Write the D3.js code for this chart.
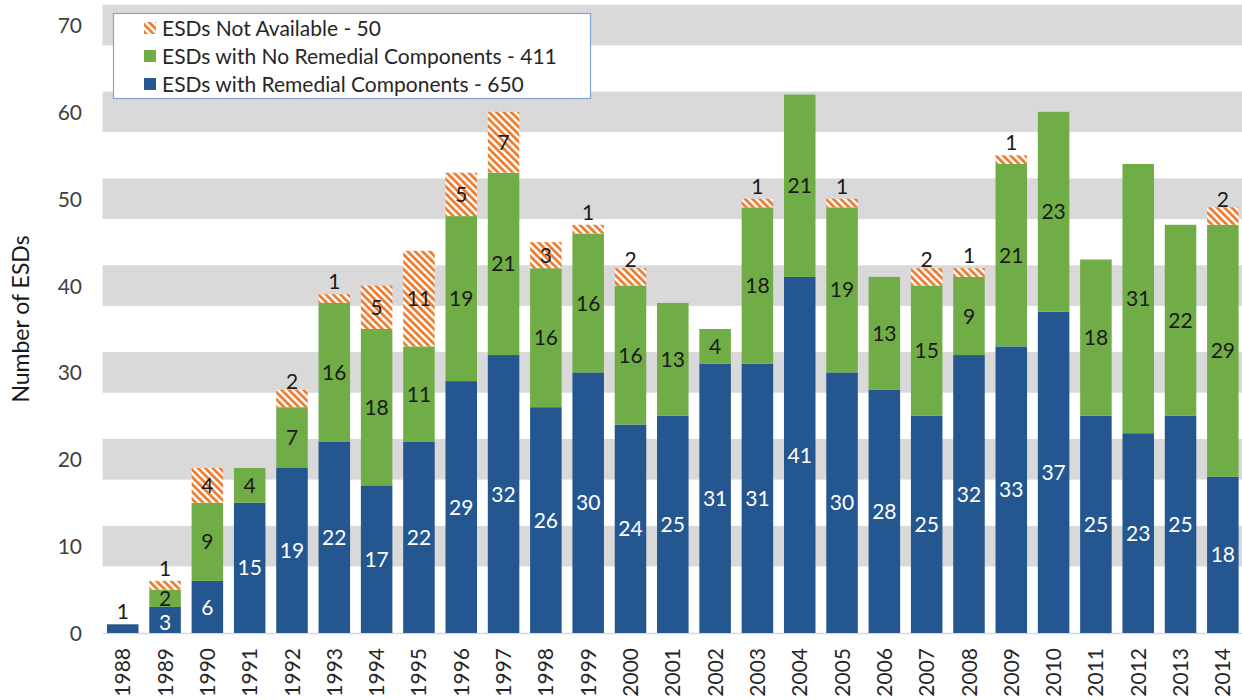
<!DOCTYPE html>
<html>
<head>
<meta charset="utf-8">
<script src="https://cdn.jsdelivr.net/npm/d3@7/dist/d3.min.js"></script>
<style>
  html, body { margin: 0; padding: 0; background: #ffffff; }
  svg { display: block; }
  text { font-family: Lato, "Open Sans", sans-serif; }
</style>
</head>
<body>
<svg id="chart" width="1242" height="700"></svg>
<script>
const years = ["1988","1989","1990","1991","1992","1993","1994","1995","1996","1997","1998","1999","2000","2001","2002","2003","2004","2005","2006","2007","2008","2009","2010","2011","2012","2013","2014"];
const remedial =     [1, 3, 6, 15, 19, 22, 17, 22, 29, 32, 26, 30, 24, 25, 31, 31, 41, 30, 28, 25, 32, 33, 37, 25, 23, 25, 18];
const noRemedial =   [0, 2, 9, 4, 7, 16, 18, 11, 19, 21, 16, 16, 16, 13, 4, 18, 21, 19, 13, 15, 9, 21, 23, 18, 31, 22, 29];
const notAvailable = [0, 1, 4, 0, 2, 1, 5, 11, 5, 7, 3, 1, 2, 0, 0, 1, 0, 1, 0, 2, 1, 1, 0, 0, 0, 0, 2];
const yTicks = [0, 10, 20, 30, 40, 50, 60, 70];
const seriesKeys = ["remedial", "noRemedial", "notAvailable"];
const legendLabels = ["ESDs Not Available - 50", "ESDs with No Remedial Components - 411", "ESDs with Remedial Components - 650"];
const legendKeys = ["notAvailable", "noRemedial", "remedial"];
const yTitle = "Number of ESDs";

const colors = { remedial: "#245690", noRemedial: "#70AD47", notAvailable: "url(#hatch)" };

const svg = d3.select("#chart");
const defs = svg.append("defs");
const pat = defs.append("pattern")
  .attr("id", "hatch").attr("patternUnits", "userSpaceOnUse")
  .attr("width", 5.2).attr("height", 5.2)
  .attr("patternTransform", "rotate(-45)");
pat.append("rect").attr("width", 5.2).attr("height", 5.2).attr("fill", "#ffffff");
pat.append("rect").attr("width", 2.8).attr("height", 5.2).attr("fill", "#ED7D31");

const table = years.map((y, i) => ({ year: y, remedial: remedial[i], noRemedial: noRemedial[i], notAvailable: notAvailable[i] }));

const x = d3.scaleBand().domain(years).range([101.6, 1244]).paddingInner(0.255).paddingOuter(0.1275);
const y = d3.scaleLinear().domain([0, 70]).range([633, 25]);

// gray bands centered on ticks
svg.append("g").selectAll("rect").data(yTicks.filter(t => t > 0)).join("rect")
  .attr("x", 102.5).attr("width", 1242 - 102.5)
  .attr("y", d => y(d) - 20.3).attr("height", 40.6)
  .attr("fill", "#D9D9D9");

// baseline
svg.append("line").attr("x1", 102.5).attr("x2", 1242).attr("y1", y(0) + 0.5).attr("y2", y(0) + 0.5)
  .attr("stroke", "#D9D9D9").attr("stroke-width", 1.5);

// y tick labels
const yAxis = d3.axisLeft(y).tickValues(yTicks).tickSize(0).tickPadding(0);
const gy = svg.append("g").attr("transform", "translate(82,0)").call(yAxis);
gy.select(".domain").remove();
gy.selectAll("text").attr("font-size", 21).attr("fill", "#404040").attr("font-family", "Lato").attr("dy", "0.36em");

// x labels
const xAxis = d3.axisBottom(x).tickSize(0).tickPadding(0);
const gx = svg.append("g").attr("transform", "translate(0,648)").call(xAxis);
gx.select(".domain").remove();
gx.selectAll("text")
  .attr("transform", "rotate(-90)")
  .attr("text-anchor", "end")
  .attr("x", 0).attr("y", 0).attr("dy", "0.36em")
  .attr("font-size", 21).attr("fill", "#262626").attr("font-family", "Lato");

// stacks
const stack = d3.stack().keys(seriesKeys);
const stacked = stack(table);

svg.append("g").selectAll("g").data(stacked).join("g")
  .attr("fill", d => colors[d.key])
  .selectAll("rect").data(d => d.filter(s => s[1] > s[0])).join("rect")
  .attr("x", d => x(d.data.year))
  .attr("width", x.bandwidth())
  .attr("y", d => y(d[1]))
  .attr("height", d => y(d[0]) - y(d[1]));

// data labels
const labels = [];
stacked.forEach((layer, li) => {
  layer.forEach((s, i) => {
    const v = s[1] - s[0];
    if (v <= 0) return;
    const total = s.data.remedial + s.data.noRemedial + s.data.notAvailable;
    const isTop = s[1] === total;
    const mid = (y(s[0]) + y(s[1])) / 2;
    const above = isTop && v <= 2;
    labels.push({
      year: s.data.year, v,
      cy: above ? mid - 17 : (li === 0 && v <= 3 ? mid + 2 : mid),
      fill: (layer.key === "remedial" && !above) ? "#ffffff" : "#1a1a1a"
    });
  });
});
svg.append("g").selectAll("text").data(labels).join("text")
  .attr("x", d => x(d.year) + x.bandwidth() / 2)
  .attr("y", d => d.cy)
  .attr("dy", "0.36em")
  .attr("text-anchor", "middle")
  .attr("font-size", 21)
  .attr("fill", d => d.fill)
  .text(d => d.v);

// y title
svg.append("text")
  .attr("transform", "translate(21,319) rotate(-90)")
  .attr("text-anchor", "middle").attr("dy", "0.36em")
  .attr("font-size", 23).attr("fill", "#1a1a1a")
  .text(yTitle);

// legend
const lg = svg.append("g");
lg.append("rect").attr("x", 113.5).attr("y", 13.5).attr("width", 477).attr("height", 85)
  .attr("fill", "#ffffff").attr("stroke", "#7FA7D9").attr("stroke-width", 1.2);
const rowY = [28, 56, 84];
legendKeys.forEach((k, i) => {
  lg.append("rect").attr("x", 144).attr("y", rowY[i] - 6).attr("width", 12).attr("height", 12)
    .attr("fill", colors[k]);
  lg.append("text").attr("x", 162).attr("y", rowY[i]).attr("dy", "0.36em")
    .attr("font-size", 21).attr("fill", "#262626").text(legendLabels[i]);
});
</script>
</body>
</html>
